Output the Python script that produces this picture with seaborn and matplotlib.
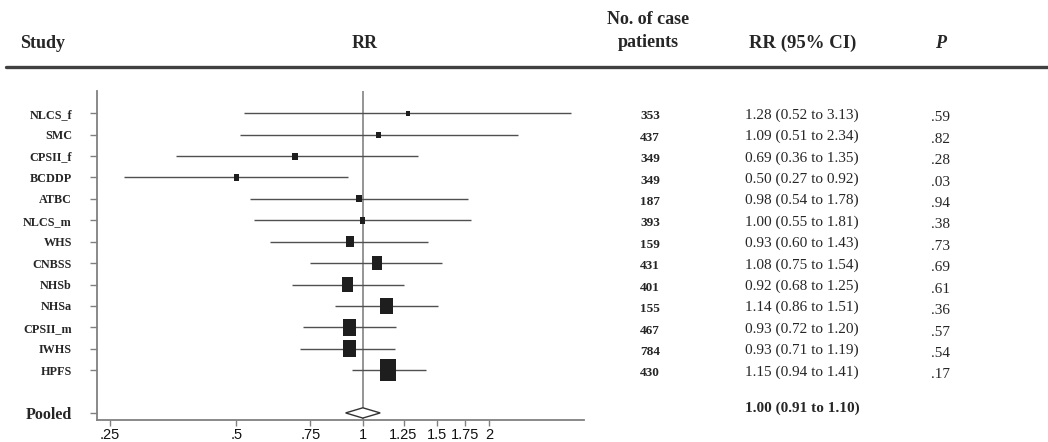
import matplotlib
matplotlib.use("Agg")
import matplotlib.pyplot as plt
from matplotlib.lines import Line2D
from matplotlib.transforms import blended_transform_factory
import seaborn as sns
import pandas as pd

# ---- data ----
studies = ["NLCS_f", "SMC", "CPSII_f", "BCDDP", "ATBC", "NLCS_m", "WHS",
           "CNBSS", "NHSb", "NHSa", "CPSII_m", "IWHS", "HPFS"]
rr = [1.28, 1.09, 0.69, 0.50, 0.98, 1.00, 0.93, 1.08, 0.92, 1.14, 0.93, 0.93, 1.15]
ci_lo = [0.52, 0.51, 0.36, 0.27, 0.54, 0.55, 0.60, 0.75, 0.68, 0.86, 0.72, 0.71, 0.94]
ci_hi = [3.13, 2.34, 1.35, 0.92, 1.78, 1.81, 1.43, 1.54, 1.25, 1.51, 1.20, 1.19, 1.41]
cases = [353, 437, 349, 349, 187, 393, 159, 431, 401, 155, 467, 784, 430]
p_vals = [".59", ".82", ".28", ".03", ".94", ".38", ".73", ".69", ".61", ".36",
          ".57", ".54", ".17"]
# relative weight, shown as box width
weights = [4, 4.5, 5.3, 5.3, 5.3, 5.3, 8, 10, 11, 12.5, 13, 12.5, 16]

pooled_label = "Pooled"
pooled_rr, pooled_lo, pooled_hi = 1.00, 0.91, 1.10

x_ticks = [0.25, 0.5, 0.75, 1, 1.25, 1.5, 1.75, 2]
x_ticklabels = [".25", ".5", ".75", "1", "1.25", "1.5", "1.75", "2"]

headers = ["Study", "RR", "No. of case\npatients", "RR (95% CI)", "P"]

# ---- figure ----
sns.set_theme(style="ticks")
plt.rcParams["font.family"] = ["Liberation Serif", "DejaVu Serif"]

W, H = 1048, 442
fig = plt.figure(figsize=(W / 100, H / 100), dpi=100)
ax = fig.add_axes([97 / W, 1 - 420 / H, (584 - 97) / W, (420 - 91) / H])

rows = list(range(len(studies)))
pooled_row = len(studies) + 1

df = pd.DataFrame({"study": studies, "rr": rr, "lo": ci_lo, "hi": ci_hi,
                   "row": rows, "w": weights})

line_col = "#505050"
ax.hlines(df["row"], df["lo"], df["hi"], color=line_col, lw=1.0, zorder=2)
ax.axvline(1, color="#8c8c8c", lw=1.3, zorder=1)

box = [(-0.75, -1), (0.75, -1), (0.75, 1), (-0.75, 1), (-0.75, -1)]
sizes = ((df["w"] / 0.75) * 0.72) ** 2
sns.scatterplot(data=df, x="rr", y="row", marker=box, s=sizes.values,
                color="#1e1e1e", edgecolor="none", linewidth=0, ax=ax,
                zorder=3, legend=False)

dh = 0.24
ax.fill([pooled_lo, pooled_rr, pooled_hi, pooled_rr],
        [pooled_row, pooled_row - dh, pooled_row, pooled_row + dh],
        facecolor="white", edgecolor="#333333", lw=1.0, zorder=4)

ax.set_xscale("log", base=2)
ax.set_xlim(0.233, 3.36)
ax.set_ylim(pooled_row + 0.33, -1.04)
ax.set_xticks(x_ticks)
ax.set_xticklabels(x_ticklabels, fontfamily="Liberation Sans", fontsize=10.5)
ax.xaxis.set_minor_locator(matplotlib.ticker.NullLocator())
ax.set_yticks(rows + [pooled_row])
ax.set_yticklabels(studies + [pooled_label], fontweight="bold", fontsize=8.7)
ax.get_yticklabels()[-1].set_fontsize(11.5)
ax.tick_params(axis="y", length=5, width=1, color="#808080", pad=13)
ax.tick_params(axis="x", length=4.5, width=1, color="#808080", pad=1.5,
               labelcolor="#111111")
ax.set_xlabel("")
ax.set_ylabel("")
sns.despine(ax=ax)
for s in ["left", "bottom"]:
    ax.spines[s].set_color("#808080")
    ax.spines[s].set_linewidth(1.3)

# ---- table columns ----
tr = blended_transform_factory(fig.transFigure, ax.transData)
for r, n, s, lo, hi, pv in zip(rows, cases, rr, ci_lo, ci_hi, p_vals):
    ax.text(650 / W, r + 0.15, f"{n}", transform=tr, ha="center", va="center",
            fontsize=9.5, fontweight="bold", clip_on=False)
    ax.text(802 / W, r + 0.08, f"{s:.2f} ({lo:.2f} to {hi:.2f})", transform=tr,
            ha="center", va="center", fontsize=11, clip_on=False)
    ax.text(940 / W, r + 0.22, pv, transform=tr, ha="center", va="center",
            fontsize=11, clip_on=False)
ax.text(802 / W, pooled_row - 0.2,
        f"{pooled_rr:.2f} ({pooled_lo:.2f} to {pooled_hi:.2f})", transform=tr,
        ha="center", va="center", fontsize=11, fontweight="bold", clip_on=False)

# ---- headers ----
hy = 1 - 43 / H
fig.text(20 / W, hy, headers[0], ha="left", va="center", fontsize=13, fontweight="bold")
fig.text(365 / W, hy, headers[1], ha="center", va="center", fontsize=13, fontweight="bold")
fig.text(648 / W, 1 - 31 / H, headers[2], ha="center", va="center", fontsize=13,
         fontweight="bold", linespacing=1.45)
fig.text(803 / W, hy, headers[3], ha="center", va="center", fontsize=13.5, fontweight="bold")
fig.text(941 / W, hy, headers[4], ha="center", va="center", fontsize=13,
         fontweight="bold", fontstyle="italic")

fig.add_artist(Line2D([6 / W, 1.0], [1 - 67 / H, 1 - 67 / H], transform=fig.transFigure,
                      color="#404040", lw=2.4))

fig.savefig("out.png", dpi=100)
